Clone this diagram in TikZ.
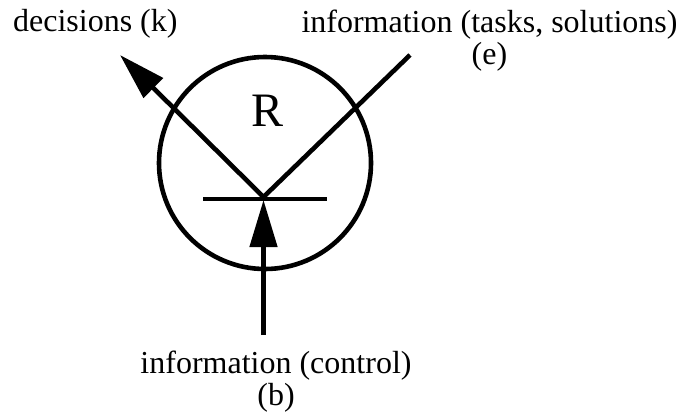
\documentclass[tikz,border=0pt]{standalone}
\usepackage{fontspec}
\setmainfont{Liberation Serif}
\usepackage{tikz}
\usetikzlibrary{arrows.meta, positioning, calc}

\begin{document}
\begin{tikzpicture}[
  x=0.5pt, y=-0.5pt,
  linea/.style={line width=2.3pt},
  flecha/.style={line width=2.3pt, -{Triangle[length=23.5pt, width=13.5pt]}},
  rueda/.style={draw, circle, line width=2.3pt, minimum size=106pt, inner sep=0pt},
  etiqueta/.style={inner sep=0pt, align=center, font=\fontsize{16}{15.8}\selectfont}
]
\useasboundingbox (0,0) rectangle (679,412);
\node[rueda] (rol) at (265,163) {};
\node[inner sep=0pt, font=\fontsize{24}{28}\selectfont] (r) at (267.5,111) {R};
\coordinate (vertice) at (263.5,197);
\coordinate (barraizq) at (203,199);
\coordinate (barrader) at (327,199);
\coordinate (entrada) at (263.5,335);
\coordinate (salida) at (120,55);
\coordinate (tareas) at (410,55);

\node[etiqueta, anchor=base west] (dec) at (12.7,32) {decisions (k)};
\node[etiqueta, anchor=north] (inf) at (489.5,10) {information (tasks, solutions)\\(e)};
\node[etiqueta, anchor=north] (ctl) at (276,351) {information (control)\\(b)};

\draw[linea] (barraizq) -- (barrader);
\draw[flecha] (tareas) -- (vertice) -- (salida);
\draw[flecha, shorten >=1.5pt] (entrada) -- (vertice);
\end{tikzpicture}
\end{document}
